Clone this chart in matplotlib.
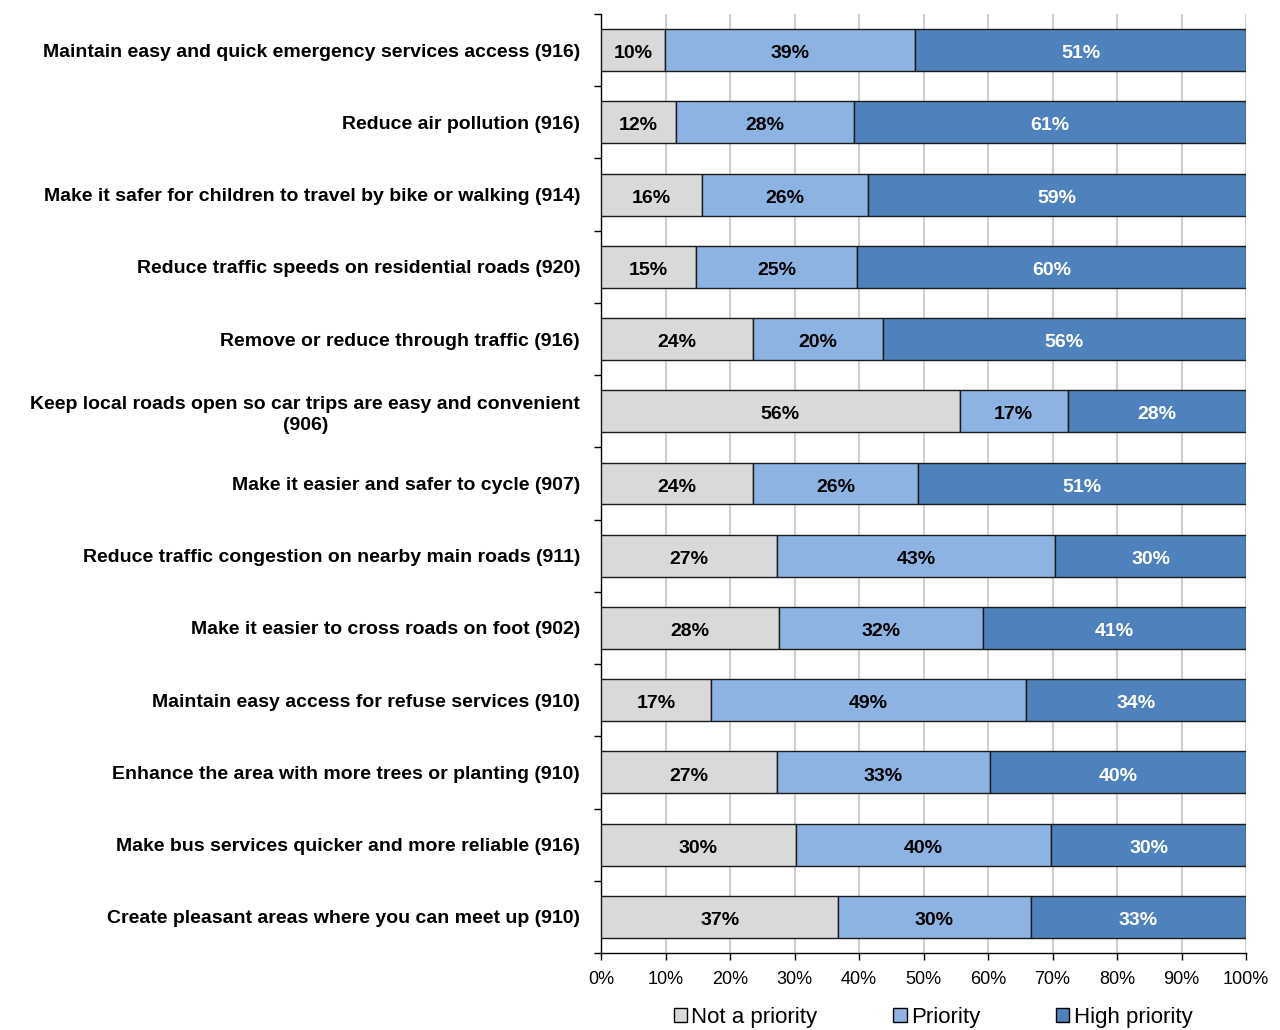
import matplotlib
matplotlib.use("Agg")
import matplotlib.pyplot as plt
import numpy as np
from matplotlib.patches import Patch

plt.rcParams['font.family'] = ['Liberation Sans', 'DejaVu Sans']

categories = [
    "Maintain easy and quick emergency services access (916)",
    "Reduce air pollution (916)",
    "Make it safer for children to travel by bike or walking (914)",
    "Reduce traffic speeds on residential roads (920)",
    "Remove or reduce through traffic (916)",
    "Keep local roads open so car trips are easy and convenient\n(906)",
    "Make it easier and safer to cycle (907)",
    "Reduce traffic congestion on nearby main roads (911)",
    "Make it easier to cross roads on foot (902)",
    "Maintain easy access for refuse services (910)",
    "Enhance the area with more trees or planting (910)",
    "Make bus services quicker and more reliable (916)",
    "Create pleasant areas where you can meet up (910)",
]

not_priority = [9.9, 11.6, 15.7, 14.7, 23.6, 55.6, 23.6, 27.3, 27.6, 17.1, 27.3, 30.2, 36.8]
priority = [38.8, 27.6, 25.7, 25.0, 20.1, 16.8, 25.6, 43.1, 31.6, 48.8, 33.0, 39.6, 29.8]
high_priority = [51.3, 60.8, 58.6, 60.3, 56.3, 27.6, 50.8, 29.6, 40.8, 34.1, 39.7, 30.2, 33.4]

series_names = ["Not a priority", "Priority", "High priority"]
colors = ["#D9D9D9", "#8DB3E2", "#4F81BD"]
text_colors = ["black", "black", "white"]
x_ticks = [0, 10, 20, 30, 40, 50, 60, 70, 80, 90, 100]

fig = plt.figure(figsize=(12.8, 10.3), dpi=100)
ax = fig.add_axes([601/1280, 1 - 953/1030, 645/1280, 939/1030])

n = len(categories)
y = np.arange(n)
left = np.zeros(n)
for vals, col, tcol in zip([not_priority, priority, high_priority], colors, text_colors):
    vals = np.array(vals)
    ax.barh(y, vals, left=left, height=0.58, color=col,
            edgecolor="#1a1a1a", linewidth=1.0, zorder=3)
    for yi, l, v in zip(y, left, vals):
        ax.text(l + v / 2, yi + 0.05, f"{round(v):.0f}%", ha="center", va="center",
                fontsize=14, fontweight="bold", color=tcol, zorder=4)
    left = left + vals

ax.set_xlim(0, 100)
ax.set_ylim(n - 0.5, -0.5)
ax.set_xticks(x_ticks)
ax.set_xticklabels([f"{t}%" for t in x_ticks], fontsize=13)
ax.tick_params(axis="x", length=5, width=1, pad=8, color="black")
ax.xaxis.grid(True, color="#CFCFCF", linewidth=1.5, zorder=0)
ax.set_axisbelow(True)

ax.set_yticks(y)
ax.set_yticklabels(categories, fontsize=14, fontweight="bold",
                   multialignment="center", linespacing=1.3)
ax.tick_params(axis="y", which="major", length=0, pad=15)
for lbl in ax.get_yticklabels():
    lbl.set_y(lbl.get_position()[1])
ax.set_yticks(np.arange(-0.5, n, 1.0), minor=True)
ax.tick_params(axis="y", which="minor", length=5, width=1, color="black")

for s in ["top", "right"]:
    ax.spines[s].set_visible(False)
for s in ["left", "bottom"]:
    ax.spines[s].set_color("black")
    ax.spines[s].set_linewidth(1.0)

handles = [Patch(facecolor=c, edgecolor="black", linewidth=1.0) for c in colors]
fig.legend(handles, series_names, loc="center", bbox_to_anchor=(933/1280, 1 - 1017/1030),
           ncol=3, frameon=False, fontsize=16, handlelength=0.6, handleheight=0.6,
           handletextpad=0.2, columnspacing=3.4)

fig.savefig("out.png", dpi=100)
